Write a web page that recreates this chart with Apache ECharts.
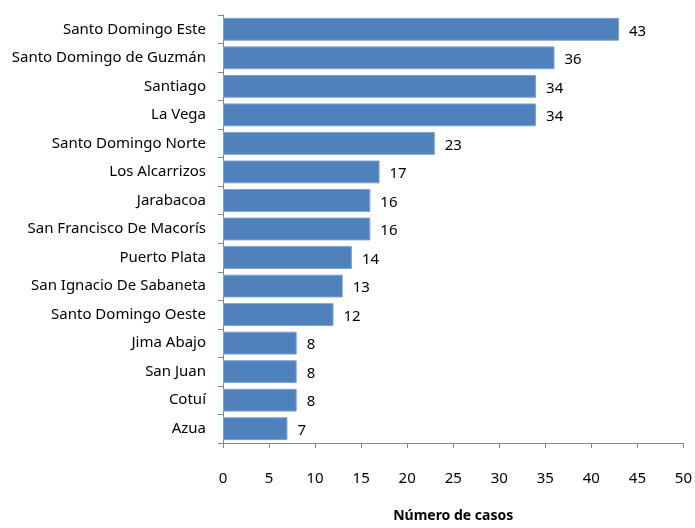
<!DOCTYPE html>
<html><head><meta charset="utf-8">
<script src="https://cdn.jsdelivr.net/npm/echarts@6/dist/echarts.min.js"></script>
<style>html,body{margin:0;padding:0;background:#fff}#c{width:695px;height:528px}</style>
</head><body><div id="c"></div>
<script>
const categories = ["Santo Domingo Este","Santo Domingo de Guzmán","Santiago","La Vega","Santo Domingo Norte","Los Alcarrizos","Jarabacoa","San Francisco De Macorís","Puerto Plata","San Ignacio De Sabaneta","Santo Domingo Oeste","Jima Abajo","San Juan","Cotuí","Azua"];
const values = [43,36,34,34,23,17,16,16,14,13,12,8,8,8,7];
const xTicks = [0,5,10,15,20,25,30,35,40,45,50];
const xTitle = "Número de casos";

const font = "'Noto Sans', sans-serif";
const chart = echarts.init(document.getElementById('c'));
chart.setOption({
  animation:false,
  grid:{left:223,right:11,top:15,bottom:81,containLabel:false},
  xAxis:{type:'value',min:xTicks[0],max:xTicks[xTicks.length-1],interval:5,
    name:xTitle,nameLocation:'middle',nameGap:66,
    nameTextStyle:{fontFamily:font,fontSize:14,fontWeight:'bold',color:'#000'},
    axisLine:{show:true,lineStyle:{color:'#868686'}},
    axisTick:{show:true,length:5,lineStyle:{color:'#868686'}},
    axisLabel:{margin:28,fontFamily:font,fontSize:15,color:'#000'},
    splitLine:{show:false}},
  yAxis:{type:'category',data:categories,inverse:true,
    axisLine:{show:true,lineStyle:{color:'#868686'}},
    axisTick:{show:true,length:5,inside:false,lineStyle:{color:'#868686'}},
    axisLabel:{margin:17,fontFamily:font,fontSize:15,color:'#000'}},
  series:[{type:'bar',data:values,barCategoryGap:'20%',
    itemStyle:{color:'#4F81BD',borderColor:'#7aa3d6',borderWidth:1},
    label:{show:true,position:'right',distance:10,offset:[0,2],fontFamily:font,fontSize:15,color:'#000'}}]
});
</script></body></html>
